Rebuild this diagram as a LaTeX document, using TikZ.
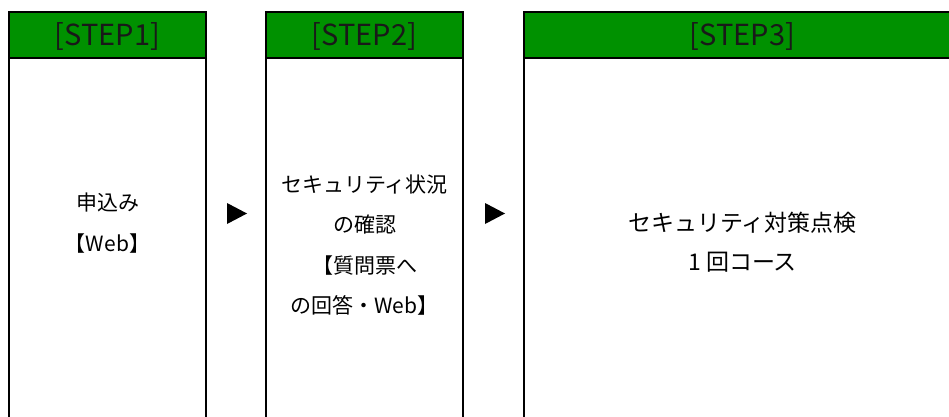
\documentclass[tikz,border=0pt]{standalone}
\usepackage{fontspec}
\setmainfont{Noto Sans CJK JP}
\definecolor{hdrgreen}{RGB}{0,145,0}
\tikzset{
  colbox/.style={draw=black, line width=2.6pt, fill=white},
  hdrbox/.style={draw=black, line width=2.6pt, fill=hdrgreen},
  hdrtext/.style={text=black!90, font=\fontsize{29}{32}\selectfont, inner sep=0pt},
  bodytext/.style={align=center, text=black, font=\fontsize{21}{40.5}\selectfont, inner sep=0pt},
  bigtext/.style={align=center, text=black, font=\fontsize{23}{39}\selectfont, inner sep=0pt},
  tri/.style={fill=black, draw=none}
}
\begin{document}
\begin{tikzpicture}[x=1pt,y=-1pt]
\useasboundingbox (0,0) rectangle (949,417);
\clip (0,0) rectangle (949,417);
% column boxes
\draw[colbox] (9,12) rectangle (206,440);
\draw[colbox] (266,12) rectangle (463,440);
\draw[colbox] (524,12) rectangle (961,440);
% headers
\draw[hdrbox] (9,12) rectangle (206,58);
\draw[hdrbox] (266,12) rectangle (463,58);
\draw[hdrbox] (524,12) rectangle (961,58);
\node[hdrtext] (h1) at (107.5,36) {[STEP1]};
\node[hdrtext] (h2) at (364.5,36) {[STEP2]};
\node[hdrtext] (h3) at (742.5,36) {[STEP3]};
% bodies
\node[bodytext] (b1) at (107.5,223) {申込み\\【Web】};
\node[bodytext] (b2) at (364.5,245) {セキュリティ状況\\の確認\\【質問票へ\\の回答・Web】};
\node[bigtext] (b3) at (742.5,242) {セキュリティ対策点検\\1 回コース};
% arrows
\fill[tri] (227,203) -- (247,213.5) -- (227,224) -- cycle;
\fill[tri] (485,203) -- (505,213.5) -- (485,224) -- cycle;
\end{tikzpicture}
\end{document}
